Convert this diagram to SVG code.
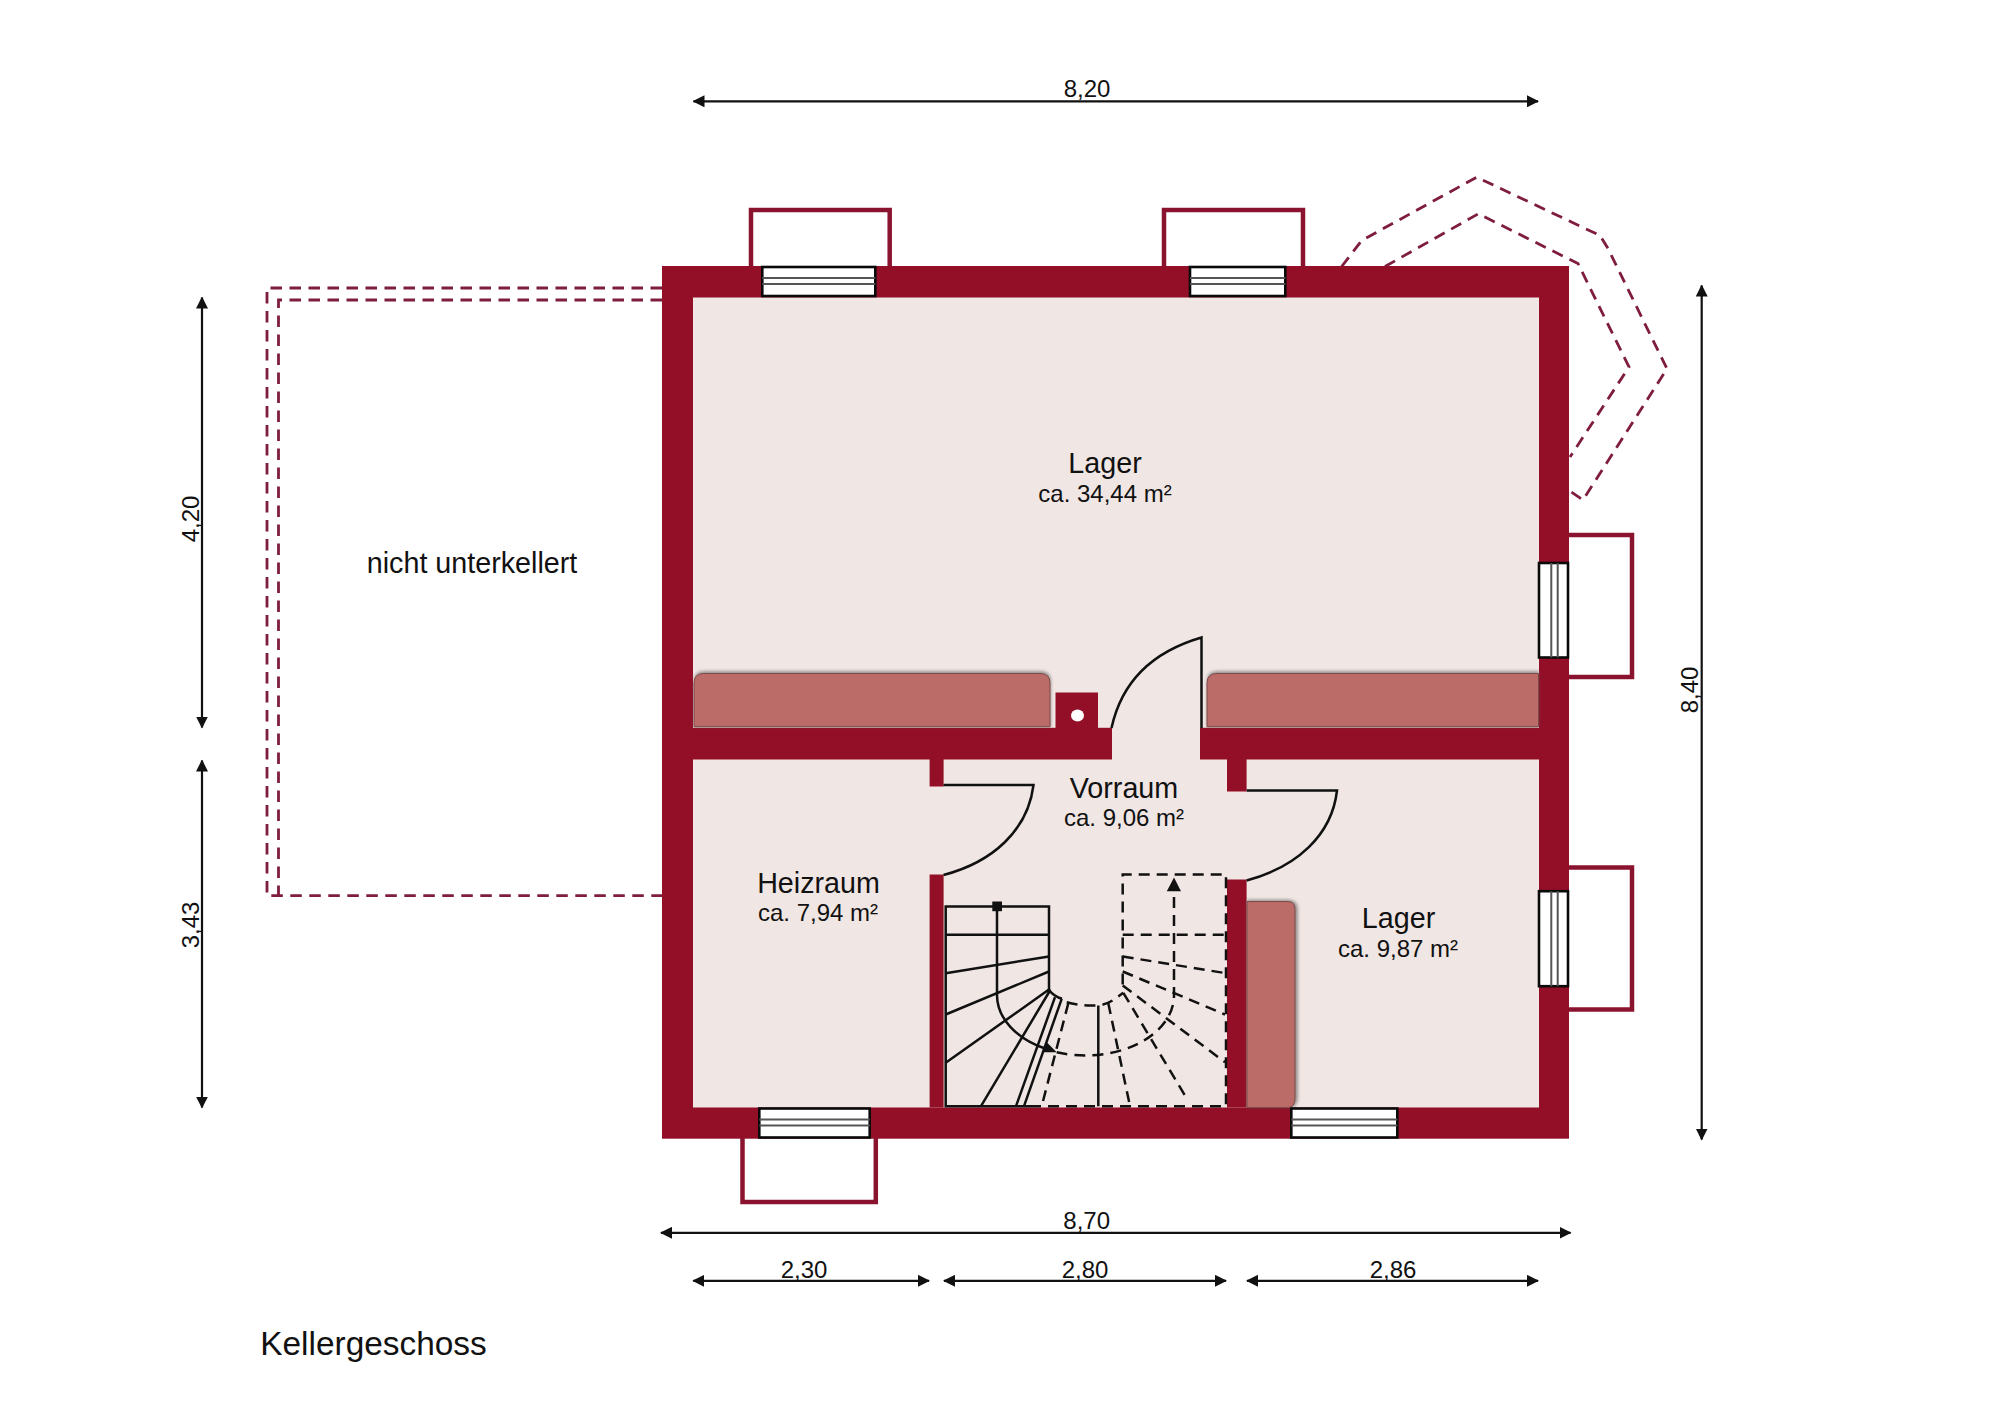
<svg xmlns="http://www.w3.org/2000/svg" width="2000" height="1413" viewBox="0 0 2000 1413">
<style>
.wall{fill:#930f27}
.room{fill:#f0e6e4}
.well{fill:none;stroke:#8a1430;stroke-width:4.5}
.win{fill:#fff;stroke:#0a0a0a;stroke-width:2.6}
.winl{fill:none;stroke:#555;stroke-width:2}
.bench{fill:#bc6c68;stroke:#7d4a48;stroke-width:1}
.benchs{fill:#555;opacity:.55;filter:url(#soft)}
.hid{fill:none;stroke:#7f1d3c;stroke-width:2.8;stroke-dasharray:11.5 7.5}
.ln{fill:none;stroke:#111;stroke-width:2.5}
.dh{fill:none;stroke:#111;stroke-width:2.5;stroke-dasharray:11 7}
.dim{fill:none;stroke:#111;stroke-width:2.2;marker-start:url(#a);marker-end:url(#a)}
text{font-family:"Liberation Sans",Arial,sans-serif;fill:#111;text-anchor:middle}
.t24{font-size:24px}
.t28{font-size:28.7px}
</style>
<defs>
<filter id="soft" x="-10%" y="-20%" width="120%" height="140%"><feGaussianBlur stdDeviation="1.6"/></filter>
<marker id="a" viewBox="0 0 12 12" refX="11" refY="6" markerWidth="12" markerHeight="12" markerUnits="userSpaceOnUse" orient="auto-start-reverse"><path d="M0 0L12 6L0 12Z" fill="#111"/></marker>
</defs>
<rect width="2000" height="1413" fill="#fff"/>

<g id="hidden-outlines">
<path class="hid" d="M662 288H267V895.7H662"/>
<path class="hid" d="M662 300H278.5V895.7"/>
<path class="hid" d="M1341.7 266.5L1361.7 240.5L1476.7 177.2L1600 235.5L1608 248.5L1667 368.8L1583 500L1570 491"/>
<path class="hid" d="M1385 266.5L1478.3 213.8L1578 263.5L1629 367L1570 457"/>
</g>

<g id="light-wells">
<path class="well" d="M751 266V210H889.7V266"/>
<path class="well" d="M1164 266V210H1303V266"/>
<path class="well" d="M1569 535H1632V677H1569"/>
<path class="well" d="M1569 867.5H1632V1009.5H1569"/>
<path class="well" d="M742.5 1138V1202H875.8V1138"/>
</g>

<g id="walls">
<rect class="wall" x="662" y="266" width="907" height="872.7"/>
<rect class="room" x="693" y="297.5" width="846" height="810"/>
<rect class="wall" x="693" y="727.8" width="419" height="31.7"/>
<rect class="wall" x="1200" y="727.8" width="339" height="31.7"/>
<rect class="wall" x="1055.5" y="692.5" width="42.5" height="35.5"/>
<ellipse cx="1077.5" cy="715.5" rx="6.5" ry="6" fill="#fff"/>
<rect class="wall" x="929.6" y="759" width="14" height="27.5"/>
<rect class="wall" x="929.6" y="874.5" width="14" height="233"/>
<rect class="wall" x="1227" y="759" width="19.6" height="32.5"/>
<rect class="wall" x="1227" y="879.5" width="19.6" height="228"/>
</g>

<g id="benches">
<path class="benchs" d="M694 727V681Q694 671 704 671H1040Q1051 671 1051 681V727Z"/>
<path class="bench" d="M694 726.7V683Q694 673.5 704 673.5H1040Q1050 673.5 1050 683V726.7Z"/>
<path class="benchs" d="M1207 727V681Q1207 671 1217 671H1539V727Z"/>
<path class="bench" d="M1207 726.7V683Q1207 673.5 1217 673.5H1538.5V726.7Z"/>
<path class="benchs" d="M1247 899.5H1288Q1298 899.5 1298 909.5V1098Q1298 1108 1288 1108H1247Z"/>
<path class="bench" d="M1247 901.5H1288Q1295 901.5 1295 909.5V1098Q1295 1107.5 1288 1107.5H1247Z"/>
</g>

<g id="windows">
<rect class="win" x="762.3" y="267" width="113" height="29"/>
<path class="winl" d="M762.3 278H875.3M762.3 284H875.3"/>
<rect class="win" x="1190" y="267" width="95.3" height="29"/>
<path class="winl" d="M1190 278H1285.3M1190 284H1285.3"/>
<rect class="win" x="1539" y="563" width="29" height="94.5"/>
<path class="winl" d="M1551.3 563V657.5M1557.7 563V657.5"/>
<rect class="win" x="1539" y="891.2" width="29" height="95"/>
<path class="winl" d="M1551.3 891.2V986.2M1557.7 891.2V986.2"/>
<rect class="win" x="759.3" y="1108.5" width="110.4" height="29"/>
<path class="winl" d="M759.3 1119.5H869.7M759.3 1125.5H869.7"/>
<rect class="win" x="1291.3" y="1108.5" width="106" height="29"/>
<path class="winl" d="M1291.3 1119.5H1397.3M1291.3 1125.5H1397.3"/>
</g>

<g id="doors">
<path class="ln" d="M1111.5 728C1122 680 1155 651 1201.5 637.5V728"/>
<path class="ln" d="M943.5 785H1033.5C1028 830 993 862 943.5 875"/>
<path class="ln" d="M1246.6 790.5H1337C1332 835 1297 867 1246.6 880.5"/>
</g>

<g id="stairs">
<path class="dh" d="M1030 1106.2H1226V874.5H1122.7V985.5"/>
<path class="dh" d="M1122.7 934.8H1226M1122.7 956.5L1226 973.2M1122.7 971.5L1225 1014.5M1122.7 985.5L1225 1062.2M1123.3 992.8L1188 1100.5M1108.3 1003.2L1130 1106.2M1068.3 1003.2L1041.7 1106.2"/>
<path class="dh" d="M1066.7 1002.2C1078 1005.5 1092 1006.5 1103 1004.5C1111 1002.5 1117 997.5 1123.3 992.8"/>
<path class="dh" d="M1056.7 1052.2A88.5 60 0 0 0 1174 995.5V890"/>
<path d="M1166.8 891.2H1181L1174 877.5Z" fill="#111"/>
<path class="ln" d="M1049 990V906.5H945.7V1106.2H1030"/>
<path class="ln" d="M945.7 934.8H1049M945.7 973.2L1049 956.5M945.7 1014.5L1049 971.5M945.7 1062.8L1050 988.8M981 1106.2L1050 990.5M1016 1106.2L1055 997.2M1024 1106.2L1061.7 998.8M1098.3 1005.5V1106.2"/>
<path class="ln" d="M1049 990Q1054 996.5 1062 998.8"/>
<path class="ln" d="M997 906.5V995.5A88.5 60 0 0 0 1045 1048.5"/>
<rect x="992.3" y="901.5" width="9.7" height="9.7" fill="#111"/>
<path d="M1041.7 1052.2L1046.7 1042.2L1056.7 1052.2Z" fill="#111"/>
</g>

<g id="dimensions">
<path class="dim" d="M693.5 101.3H1538"/>
<path class="dim" d="M661 1232.8H1570.5"/>
<path class="dim" d="M693.3 1280.8H929"/>
<path class="dim" d="M944 1280.8H1226"/>
<path class="dim" d="M1247 1280.8H1538"/>
<path class="dim" d="M1701.7 285.5V1139.5"/>
<path class="dim" d="M202 297.5V727.5"/>
<path class="dim" d="M202 760.5V1107.6"/>
</g>

<g id="dimension-labels">
<text class="t24" x="1087" y="96.5">8,20</text>
<text class="t24" x="1086.7" y="1229">8,70</text>
<text class="t24" x="804" y="1277.5">2,30</text>
<text class="t24" x="1085" y="1277.5">2,80</text>
<text class="t24" x="1393" y="1277.5">2,86</text>
<text class="t24" transform="translate(1698 690) rotate(-90)">8,40</text>
<text class="t24" transform="translate(199 519) rotate(-90)">4,20</text>
<text class="t24" transform="translate(199 925) rotate(-90)">3,43</text>
</g>

<g id="room-lager-gross">
<text class="t28" x="1105" y="472.5">Lager</text>
<text class="t24" x="1105" y="501.5">ca. 34,44 m²</text>
</g>
<g id="room-vorraum">
<text class="t28" x="1124" y="798">Vorraum</text>
<text class="t24" x="1124" y="825.5">ca. 9,06 m²</text>
</g>
<g id="room-heizraum">
<text class="t28" x="818.5" y="893">Heizraum</text>
<text class="t24" x="818" y="921">ca. 7,94 m²</text>
</g>
<g id="room-lager-klein">
<text class="t28" x="1398.5" y="928">Lager</text>
<text class="t24" x="1398" y="956.5">ca. 9,87 m²</text>
</g>
<g id="annex">
<text class="t28" x="472" y="573">nicht unterkellert</text>
</g>
<g id="title">
<text x="373.5" y="1355" font-size="33.4">Kellergeschoss</text>
</g>
</svg>
